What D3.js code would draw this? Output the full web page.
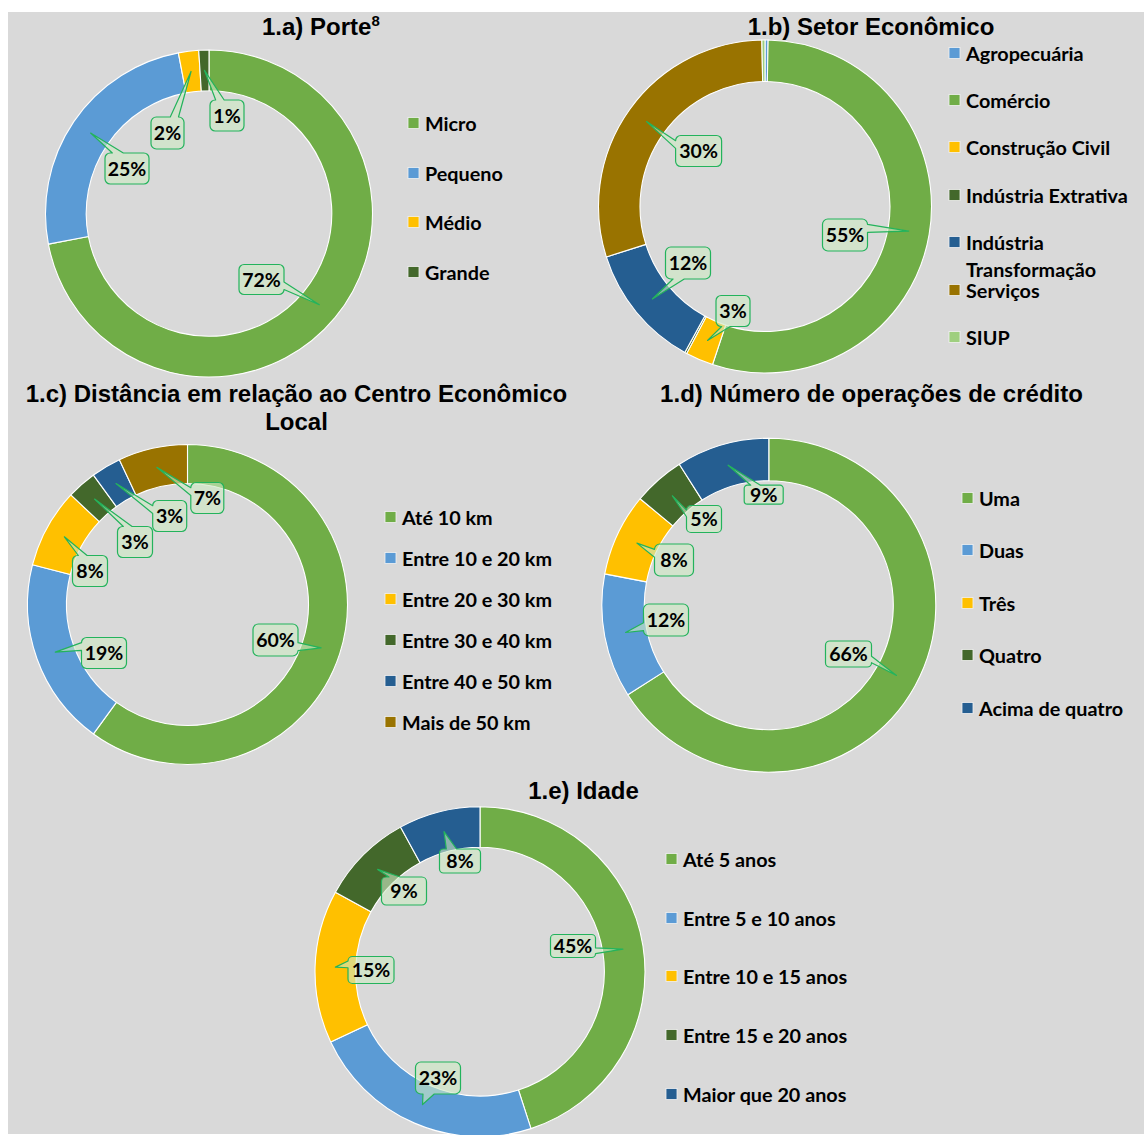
<!DOCTYPE html>
<html>
<head>
<meta charset="utf-8">
<script src="https://cdn.jsdelivr.net/npm/d3@7"></script>
<style>
  body { margin: 0; background: #ffffff; }
  svg { display: block; }
</style>
</head>
<body>
<svg id="chart" width="1144" height="1135"></svg>
<script>
// ---- Data ----
const porteCategories = ["Micro", "Pequeno", "Médio", "Grande"];
const porteValues = [72, 25, 2, 1];

const setorCategories = ["Agropecuária", "Comércio", "Construção Civil", "Indústria Extrativa",
  "Indústria Transformação", "Serviços", "SIUP"];
const setorValues = [0.3, 54.8, 2.7, 0.2, 12.1, 29.6, 0.3];

const distanciaCategories = ["Até 10 km", "Entre 10 e 20 km", "Entre 20 e 30 km",
  "Entre 30 e 40 km", "Entre 40 e 50 km", "Mais de 50 km"];
const distanciaValues = [60, 19, 8, 3, 3, 7];

const operacoesCategories = ["Uma", "Duas", "Três", "Quatro", "Acima de quatro"];
const operacoesValues = [66, 12, 8, 5, 9];

const idadeCategories = ["Até 5 anos", "Entre 5 e 10 anos", "Entre 10 e 15 anos",
  "Entre 15 e 20 anos", "Maior que 20 anos"];
const idadeValues = [45, 23, 15, 9, 8];

// ---- Colours ----
const GREEN = "#70ad47", BLUE = "#5b9bd5", GOLD = "#ffc000", DKGREEN = "#43682b",
      DKBLUE = "#255e91", BROWN = "#997300", LTGREEN = "#9fcf7f";

// ---- Layout of each doughnut (centre, radii, title, legend rows, callout boxes) ----
// callout boxes: [dx, dy, width, height] of the box centre relative to the ring centre
const charts = [
  {
    categories: porteCategories, values: porteValues,
    colors: [GREEN, BLUE, GOLD, DKGREEN],
    cx: 209, cy: 213.5, rOuter: 163.5, rInner: 122.8,
    title: { x: 262, y: 35, anchor: "start", lines: ["1.a) Porte"], sup: "8" },
    legend: { x: 408, rows: [123, 173, 222, 272] },
    boxes: [[52.5, 66, 45, 30], [-82, -45, 44, 31], [-41.5, -80.5, 33, 32], [18, -98, 34, 31]]
  },
  {
    categories: setorCategories, values: setorValues,
    colors: [BLUE, GREEN, GOLD, DKGREEN, DKBLUE, BROWN, LTGREEN],
    cx: 765, cy: 206.5, rOuter: 166.5, rInner: 125,
    title: { x: 871, y: 35, anchor: "middle", lines: ["1.b) Setor Econômico"] },
    legend: { x: 949, rows: [53, 100, 147, 195, 242, 290, 337], wrap: { 4: 27 } },
    boxes: [null, [80, 28.5, 45, 32], [-32, 104.5, 34, 31], null, [-77, 56.5, 45, 32], [-66.4, -55.5, 46, 31], null]
  },
  {
    categories: distanciaCategories, values: distanciaValues,
    colors: [GREEN, BLUE, GOLD, DKGREEN, DKBLUE, BROWN],
    cx: 187.5, cy: 604.5, rOuter: 160, rInner: 121,
    title: { x: 296.5, y: 402, anchor: "middle", lines: ["1.c) Distância em relação ao Centro Econômico", "Local"] },
    legend: { x: 385, rows: [517, 558, 599, 640, 681, 722] },
    boxes: [[88, 35.5, 45, 32], [-83.5, 48.5, 45, 31], [-97.5, -33.5, 35, 31], [-52.5, -62.5, 35, 31],
            [-17.8, -88.5, 34, 31], [19.8, -106.5, 33, 31]]
  },
  {
    categories: operacoesCategories, values: operacoesValues,
    colors: [GREEN, BLUE, GOLD, DKGREEN, DKBLUE],
    cx: 768.8, cy: 605.2, rOuter: 167, rInner: 124.5,
    title: { x: 871.5, y: 402, anchor: "middle", lines: ["1.d) Número de operações de crédito"] },
    legend: { x: 962, rows: [498, 550, 603, 655, 708] },
    boxes: [[79.7, 48.8, 46, 26], [-102.8, 14.8, 45, 32], [-94.8, -45.2, 39, 32], [-64.8, -86.2, 35, 27], [-5.1, -110.5, 39, 19]]
  },
  {
    categories: idadeCategories, values: idadeValues,
    colors: [GREEN, BLUE, GOLD, DKGREEN, DKBLUE],
    cx: 480, cy: 971.7, rOuter: 165, rInner: 124.4,
    title: { x: 583.5, y: 799, anchor: "middle", lines: ["1.e) Idade"] },
    legend: { x: 666, rows: [859, 918, 976, 1035, 1094] },
    boxes: [[93, -25.7, 45, 23], [-42, 106.3, 45, 32], [-109, -1.7, 46, 27], [-76, -80.7, 45, 28], [-20, -110.7, 41, 24]]
  }
];

const svg = d3.select("#chart");

// panel background
svg.append("rect").attr("x", 8).attr("y", 12).attr("width", 1136).attr("height", 1122)
  .attr("fill", "#d9d9d9");

const TITLE_FONT = "'Liberation Sans', Arial, sans-serif";
const BODY_FONT = "Lato, 'Open Sans', sans-serif";

// Rounded-rectangle callout with a wedge pointing at (tx, ty)
function calloutPath(x, y, w, h, tx, ty) {
  const hc = x + w / 2, vc = y + h / 2;
  const dxPos = tx - hc, dyPos = ty - vc;
  const dq = dxPos * h / w;
  const dz = Math.abs(dyPos) - Math.abs(dq);
  const x1 = x + w * (dxPos > 0 ? 7 : 2) / 12, x2 = x + w * (dxPos > 0 ? 10 : 5) / 12;
  const y1 = y + h * (dyPos > 0 ? 7 : 2) / 12, y2 = y + h * (dyPos > 0 ? 10 : 5) / 12;
  const r = Math.min(w, h) * 0.16667;
  let side;
  if (dz > 0) side = dyPos < 0 ? "top" : "bottom";
  else side = dxPos < 0 ? "left" : "right";
  const p = d3.path();
  p.moveTo(x + r, y);
  if (side === "top") { p.lineTo(x1, y); p.lineTo(tx, ty); p.lineTo(x2, y); }
  p.lineTo(x + w - r, y);
  p.arcTo(x + w, y, x + w, y + r, r);
  if (side === "right") { p.lineTo(x + w, y1); p.lineTo(tx, ty); p.lineTo(x + w, y2); }
  p.lineTo(x + w, y + h - r);
  p.arcTo(x + w, y + h, x + w - r, y + h, r);
  if (side === "bottom") { p.lineTo(x2, y + h); p.lineTo(tx, ty); p.lineTo(x1, y + h); }
  p.lineTo(x + r, y + h);
  p.arcTo(x, y + h, x, y + h - r, r);
  if (side === "left") { p.lineTo(x, y2); p.lineTo(tx, ty); p.lineTo(x, y1); }
  p.lineTo(x, y + r);
  p.arcTo(x, y, x + r, y, r);
  p.closePath();
  return p.toString();
}

charts.forEach(ch => {
  const g = svg.append("g");
  const total = d3.sum(ch.values);

  // title
  const t = g.append("text")
    .attr("x", ch.title.x).attr("y", ch.title.y)
    .attr("text-anchor", ch.title.anchor)
    .attr("font-family", TITLE_FONT).attr("font-weight", "bold")
    .attr("font-size", 24).attr("fill", "#000");
  ch.title.lines.forEach((line, i) => {
    t.append("tspan").attr("x", ch.title.x).attr("dy", i === 0 ? 0 : 28).text(line);
  });
  if (ch.title.sup) {
    t.append("tspan").attr("font-size", 15).attr("dy", -9).text(ch.title.sup);
  }

  // doughnut
  const pie = d3.pie().sort(null).value(d => d)(ch.values);
  const arc = d3.arc().innerRadius(ch.rInner).outerRadius(ch.rOuter);
  const ring = g.append("g").attr("transform", `translate(${ch.cx},${ch.cy})`);
  ring.selectAll("path.slice").data(pie).join("path")
    .attr("class", "slice")
    .attr("d", arc)
    .attr("fill", (d, i) => ch.colors[i])
    .attr("stroke", "#ffffff").attr("stroke-width", 1.1)
    .attr("stroke-linejoin", "round");

  // callouts
  pie.forEach((d, i) => {
    const b = ch.boxes[i];
    if (!b) return;
    const [tx, ty] = arc.centroid(d);
    const w = b[2], h = b[3];
    const x = b[0] - w / 2, y = b[1] - h / 2;
    ring.append("path")
      .attr("d", calloutPath(x, y, w, h, tx, ty))
      .attr("fill", "rgba(205, 232, 196, 0.62)")
      .attr("stroke", "#23b35c").attr("stroke-width", 1.2)
      .attr("stroke-linejoin", "round");
    ring.append("text")
      .attr("x", b[0]).attr("y", b[1])
      .attr("dy", "0.37em")
      .attr("text-anchor", "middle")
      .attr("font-family", BODY_FONT).attr("font-weight", "bold")
      .attr("font-size", 19.5).attr("fill", "#000")
      .text(Math.round(d.value / total * 100) + "%");
  });

  // legend
  const lg = g.append("g");
  ch.categories.forEach((name, i) => {
    const y = ch.legend.rows[i];
    lg.append("rect")
      .attr("x", ch.legend.x).attr("y", y - 5.5)
      .attr("width", 11).attr("height", 11)
      .attr("fill", ch.colors[i]).attr("stroke", "#f2f2f2").attr("stroke-width", 0.8);
    const txt = lg.append("text")
      .attr("x", ch.legend.x + 17).attr("y", y).attr("dy", "0.38em")
      .attr("font-family", BODY_FONT).attr("font-weight", "bold")
      .attr("font-size", 19.8).attr("fill", "#000");
    const wrapGap = ch.legend.wrap && ch.legend.wrap[i];
    if (wrapGap) {
      const k = name.indexOf(" ");
      txt.append("tspan").attr("x", ch.legend.x + 17).text(name.slice(0, k));
      txt.append("tspan").attr("x", ch.legend.x + 17).attr("dy", wrapGap).text(name.slice(k + 1));
    } else {
      txt.text(name);
    }
  });
});
</script>
</body>
</html>
